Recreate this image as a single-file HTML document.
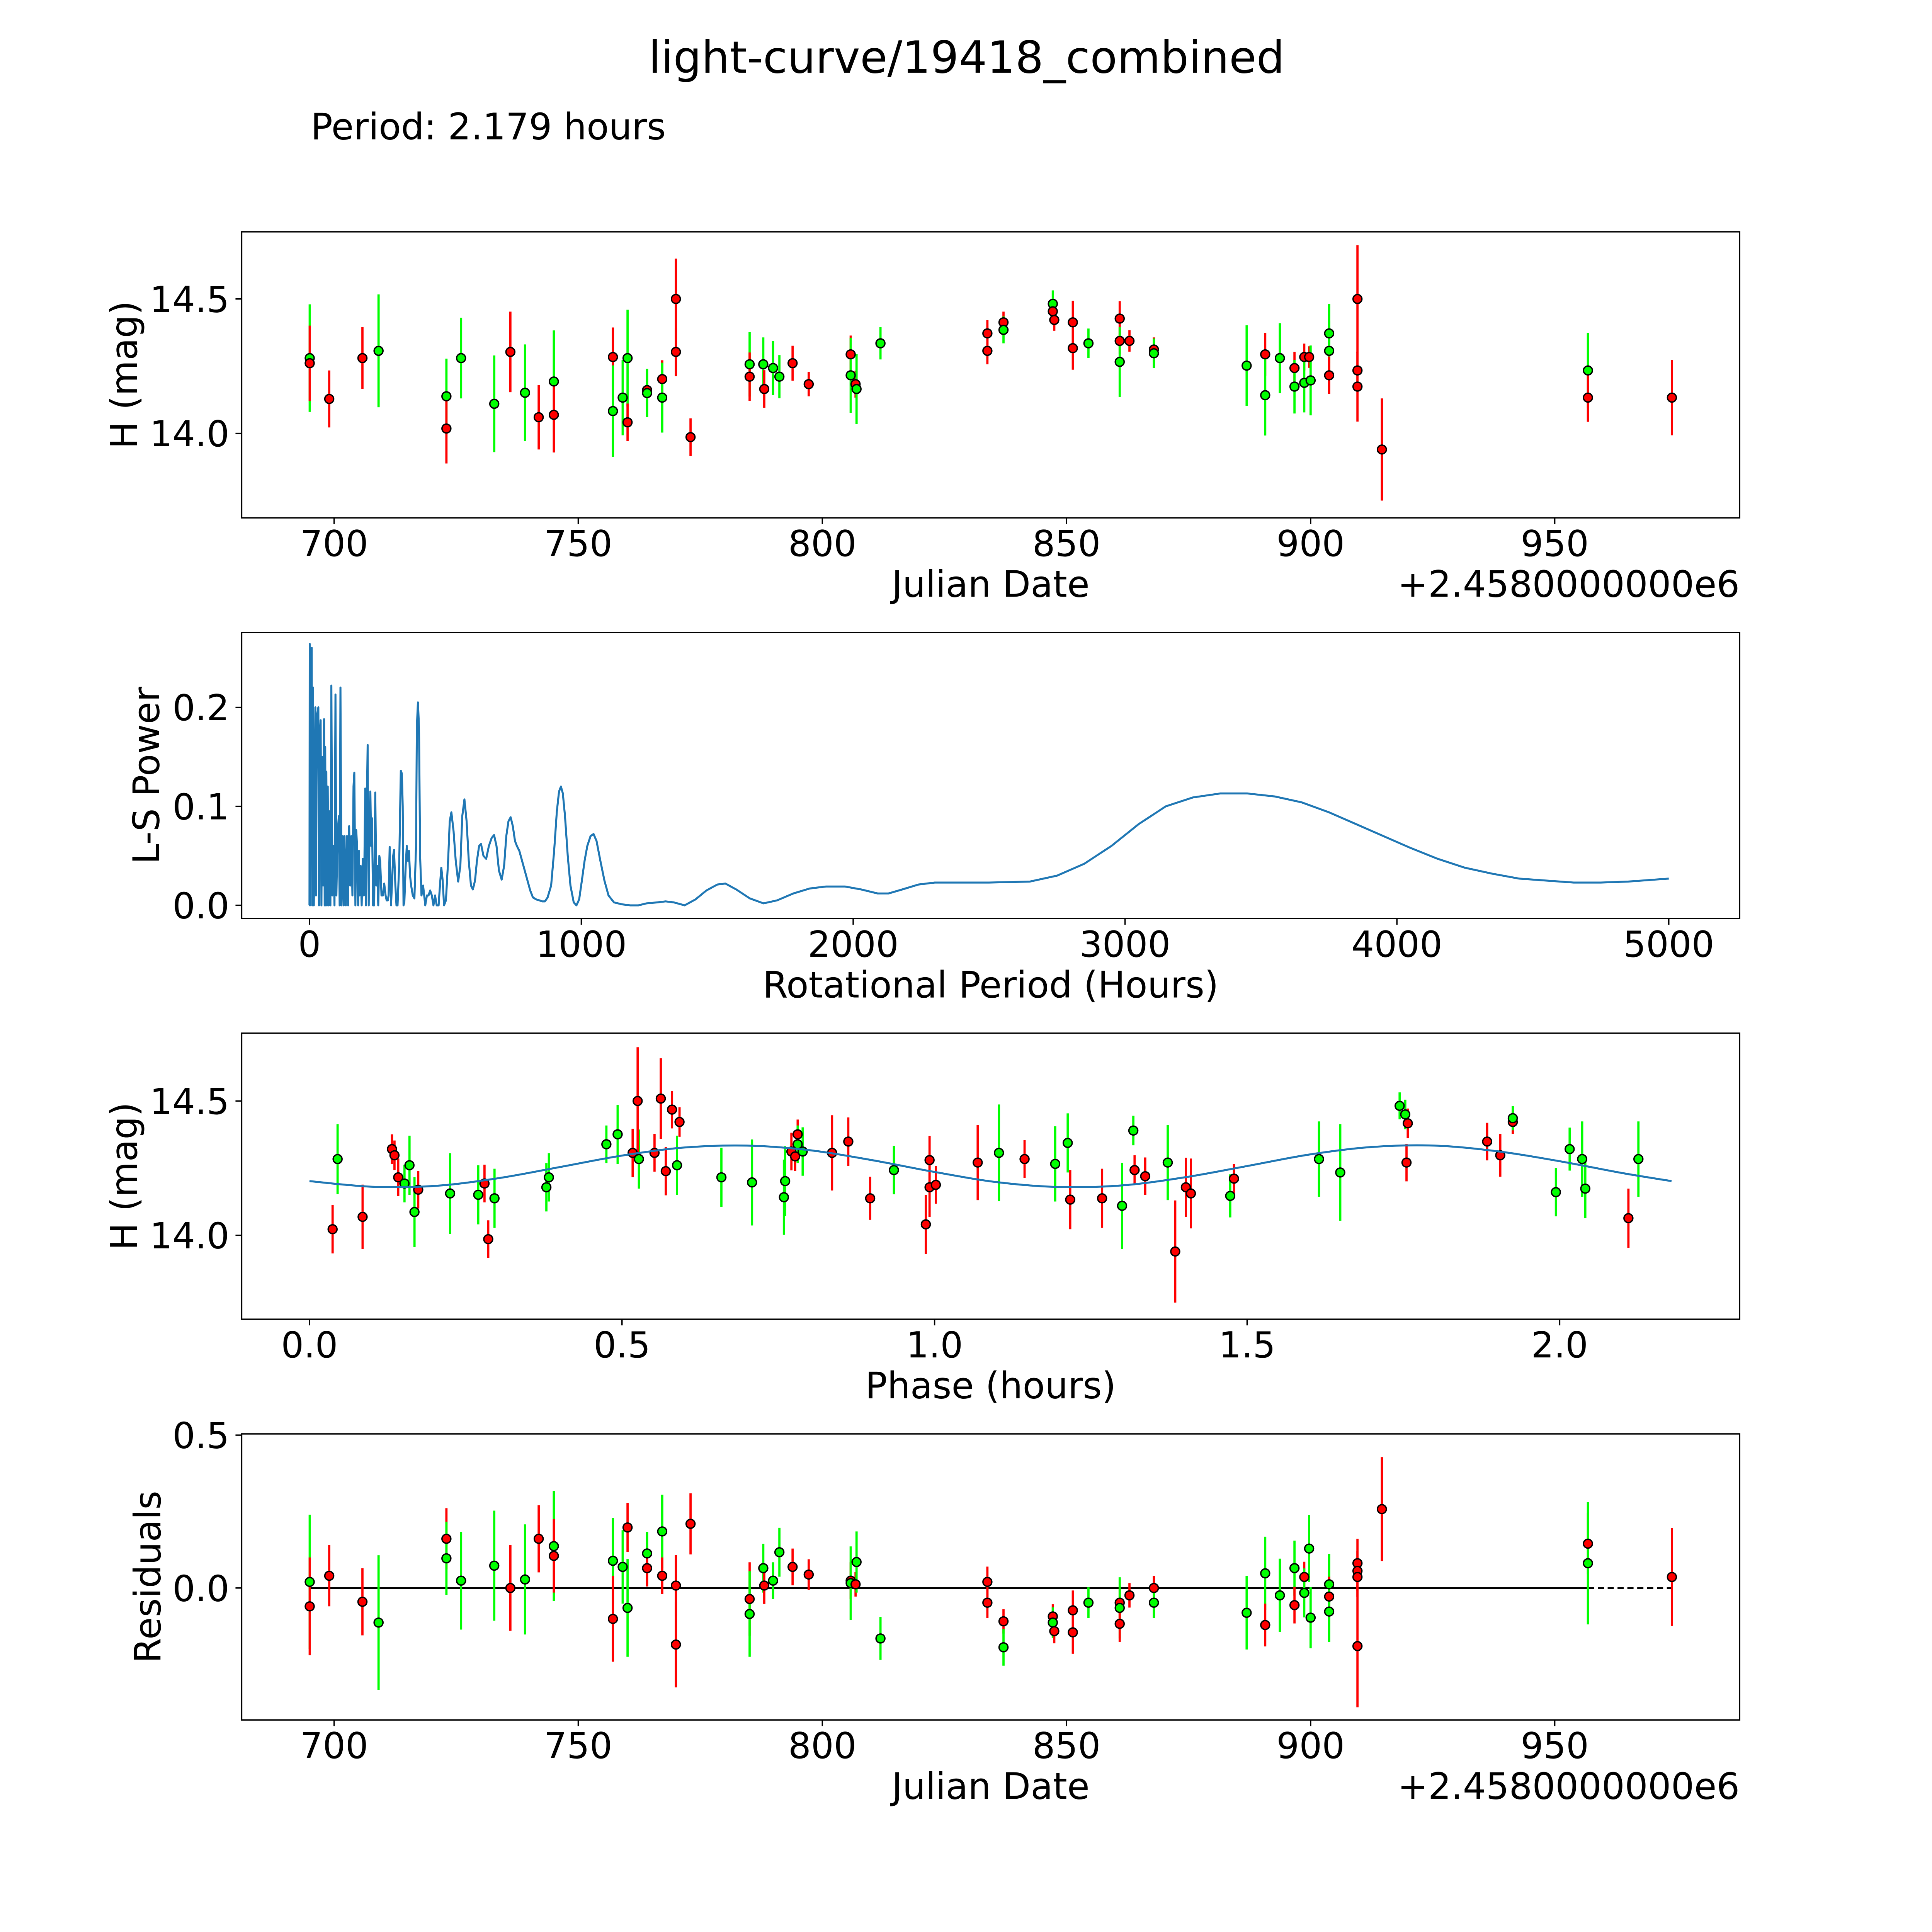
<!DOCTYPE html>
<html><head><meta charset="utf-8">
<style>
html,body{margin:0;padding:0;background:#fff;overflow:hidden;width:100vw;height:100vh;}
svg{display:block;position:fixed;left:0;top:0;width:100vw;height:100vh;}
text{font-family:"DejaVu Sans","Liberation Sans",sans-serif;fill:#000;}
</style></head>
<body>
<svg id="fig" xmlns="http://www.w3.org/2000/svg" viewBox="0 0 1567 1567" preserveAspectRatio="none">
<rect x="0" y="0" width="1567" height="1567" fill="#fff"/>
<text x="784" y="59" font-size="36" text-anchor="middle">light-curve/19418_combined</text>
<text x="252" y="113" font-size="29.5">Period: 2.179 hours</text>
</svg>
<script>
// ---------- Data: panel 1 (light curve) ----------
const lcJD  = [695,695,699,705.8,709.1,723,723,726,732.8,736.1,739.1,741.9,745,745,757.1,757.1,759.1,760.1,760.1,764.1,764.1,767.2,767.2,770,770,773,785.1,785.1,787.9,788.1,789.9,791.2,793.9,797.2,805.8,805.8,806.8,807,811.9,833.8,833.8,837.1,837.1,847.2,847.2,847.5,851.3,851.3,854.5,860.9,860.9,860.9,862.9,867.9,867.9,886.9,890.7,890.7,893.7,896.7,896.7,898.7,898.7,899.7,900,903.8,903.8,903.8,909.6,909.6,909.6,914.6,956.8,956.8,974];
const lcMag = [14.280,14.261,14.128,14.280,14.307,14.138,14.018,14.280,14.110,14.303,14.151,14.060,14.193,14.069,14.284,14.083,14.133,14.280,14.041,14.161,14.150,14.202,14.133,14.5,14.303,13.986,14.257,14.211,14.257,14.165,14.243,14.211,14.261,14.183,14.294,14.216,14.183,14.165,14.335,14.372,14.307,14.413,14.385,14.482,14.454,14.422,14.413,14.317,14.335,14.427,14.344,14.266,14.344,14.312,14.298,14.252,14.294,14.142,14.280,14.243,14.174,14.284,14.188,14.284,14.197,14.372,14.307,14.216,14.5,14.234,14.174,13.940,14.234,14.133,14.133];
const lcErr = [0.20,0.14,0.106,0.115,0.21,0.14,0.13,0.15,0.18,0.15,0.18,0.12,0.19,0.14,0.11,0.17,0.14,0.18,0.07,0.06,0.09,0.07,0.13,0.15,0.09,0.07,0.12,0.09,0.10,0.07,0.10,0.08,0.065,0.045,0.07,0.14,0.05,0.13,0.06,0.05,0.05,0.04,0.05,0.05,0.04,0.04,0.08,0.08,0.055,0.065,0.05,0.13,0.04,0.045,0.055,0.15,0.08,0.15,0.13,0.06,0.10,0.05,0.11,0.04,0.13,0.11,0.11,0.07,0.20,0.07,0.13,0.19,0.14,0.09,0.14];
const lcBand= "grrrggrggrgrgrrgggrrgrgrrrgrgrggrrrgrggrrrggrrrrgrrgrrggrggrgrgrgggrrrrrgrr";

// ---------- Data: panel 2 (periodogram) ----------
const lsPeriod = [0,1,2,5,8.4,10,13.4,16,21.8,24,27,32.7,35,38,41.1,44,47,50,53.7,56,57.9,60,62.1,64.5,67.2,70,74.7,77,80.6,84,88,92,95.7,99,103,108,111,114,118,122,126,129,134,138,142,146,150,154,158,162,165,169,172,175,179,182,184,188,192,196,200,202,205,208,211,214,218,221,224,227,230,234,238,242,246,249,253,257,260,265,270,275,280,284,288,291,295,300,305,308,311,316,320,324,330,336,340,343,346,349,354,358,362,366,370,374,380,386,392,395,399,403,407,412,418,422,426,432,438,444,450,456,462,468,475,480,485,490,495,502,510,516,522,530,538,547,555,562,570,578,586,594,601,609,616,624,631,640,650,660,670,679,688,697,707,716,724,732,740,748,756,763,772,782,792,802,812,822,834,846,856,866,876,889,900,910,918,925,932,940,950,960,972,982,992,1002,1012,1022,1034,1045,1056,1070,1085,1100,1120,1150,1180,1210,1240,1280,1310,1340,1380,1420,1460,1500,1530,1570,1620,1670,1720,1780,1840,1900,1970,2030,2090,2130,2180,2240,2300,2400,2500,2650,2750,2850,2950,3050,3150,3250,3350,3450,3550,3650,3750,3850,3950,4050,4150,4250,4350,4450,4550,4650,4750,4850,4950,5000];
const lsPower  = [0,0.264,0,0.25,0.26,0,0.22,0,0.2,0.01,0.19,0.2,0,0.17,0.187,0,0.15,0.02,0.188,0,0.16,0,0.135,0,0.12,0,0.095,0,0.222,0.01,0.06,0,0.213,0.01,0.07,0.09,0,0.22,0,0.07,0,0.07,0,0.07,0,0.08,0.02,0.07,0.01,0.12,0.134,0,0.076,0.06,0,0.055,0.01,0.04,0,0.047,0.01,0.04,0.118,0,0.1,0.162,0,0.09,0.115,0.06,0.088,0,0,0.114,0.02,0.04,0,0.05,0.045,0.01,0.01,0.022,0.01,0.005,0.005,0.01,0.059,0,0.03,0.05,0.056,0.02,0,0,0.04,0.136,0.133,0.1,0,0.003,0.04,0.06,0.045,0.055,0.03,0.02,0.01,0.007,0.06,0.18,0.205,0.18,0.05,0.01,0.02,0.01,0,0.01,0.01,0.015,0.01,0,0.01,0,0,0.02,0.038,0.025,0,0.005,0.045,0.085,0.094,0.075,0.045,0.024,0.04,0.09,0.107,0.085,0.045,0.02,0.016,0.025,0.045,0.06,0.062,0.05,0.047,0.06,0.068,0.071,0.06,0.035,0.026,0.04,0.07,0.085,0.089,0.08,0.065,0.06,0.055,0.045,0.035,0.025,0.015,0.008,0.006,0.005,0.004,0.004,0.008,0.02,0.055,0.095,0.115,0.12,0.113,0.09,0.05,0.02,0.003,0,0.006,0.025,0.045,0.06,0.07,0.072,0.065,0.045,0.025,0.01,0.003,0.001,0,0,0.002,0.003,0.004,0.003,0,0.006,0.015,0.021,0.022,0.016,0.007,0.002,0.005,0.012,0.017,0.019,0.019,0.016,0.012,0.012,0.016,0.021,0.023,0.023,0.023,0.024,0.03,0.042,0.06,0.082,0.1,0.109,0.113,0.113,0.11,0.104,0.094,0.082,0.07,0.058,0.047,0.038,0.032,0.027,0.025,0.023,0.023,0.024,0.026,0.027];

// ---------- Data: panel 3 (phased) ----------
const phPhase = [0.037,0.045,0.085,0.132,0.136,0.142,0.152,0.160,0.168,0.174,0.225,0.270,0.280,0.286,0.296,0.379,0.383,0.475,0.493,0.517,0.527,0.525,0.552,0.562,0.570,0.580,0.588,0.592,0.659,0.708,0.759,0.761,0.771,0.777,0.781,0.781,0.789,0.836,0.862,0.897,0.935,0.986,0.992,0.992,1.002,1.069,1.103,1.144,1.193,1.213,1.217,1.268,1.300,1.318,1.320,1.337,1.373,1.385,1.402,1.410,1.473,1.479,1.615,1.649,1.744,1.753,1.757,1.755,1.884,1.905,1.925,1.925,1.994,2.016,2.036,2.041,2.110,2.126];
const phMag   = [14.023,14.284,14.069,14.321,14.298,14.216,14.193,14.261,14.087,14.170,14.156,14.151,14.193,13.986,14.138,14.179,14.216,14.339,14.376,14.307,14.284,14.5,14.307,14.509,14.239,14.468,14.261,14.422,14.216,14.197,14.142,14.202,14.312,14.294,14.376,14.339,14.312,14.307,14.349,14.138,14.243,14.041,14.179,14.280,14.188,14.271,14.307,14.284,14.266,14.344,14.133,14.138,14.110,14.390,14.243,14.220,14.271,13.940,14.179,14.156,14.147,14.211,14.284,14.234,14.482,14.450,14.417,14.271,14.349,14.298,14.422,14.436,14.161,14.321,14.284,14.174,14.064,14.284];
const phErr   = [0.09,0.13,0.12,0.055,0.055,0.07,0.07,0.11,0.13,0.07,0.15,0.11,0.07,0.07,0.11,0.09,0.09,0.07,0.11,0.09,0.11,0.2,0.07,0.15,0.09,0.07,0.11,0.055,0.11,0.16,0.14,0.13,0.07,0.055,0.055,0.07,0.09,0.14,0.09,0.08,0.09,0.11,0.11,0.09,0.07,0.14,0.18,0.07,0.14,0.11,0.11,0.11,0.16,0.055,0.055,0.07,0.14,0.19,0.11,0.13,0.08,0.055,0.14,0.18,0.05,0.055,0.055,0.07,0.07,0.08,0.045,0.045,0.09,0.08,0.14,0.11,0.11,0.14];
const phBand  = "rgrrrrgggrggrrgggggrgrrrrrgrggggrrrggrrrgrrrrrgrggrrggrrgrrrgrggggrrrrrgggggrg";
const modelPhase = [0,0.1,0.2,0.3,0.4,0.5,0.6,0.7,0.8,0.9,1.0,1.1,1.2,1.3,1.4,1.5,1.6,1.7,1.8,1.9,2.0,2.1,2.179];
const modelMag   = [14.202,14.181,14.184,14.212,14.254,14.297,14.327,14.334,14.317,14.280,14.236,14.198,14.180,14.186,14.216,14.258,14.301,14.329,14.334,14.313,14.276,14.232,14.202];

// ---------- Data: panel 4 (residuals) ----------
const rsJD  = [695,695,699,705.8,709.1,723,723,726,732.8,736.1,739.1,741.9,745,745,757.1,757.1,759.1,760.1,760.1,764.1,764.1,767.2,767.2,770,770,773,785.1,785.1,787.9,788.1,789.9,791.2,793.9,797.2,805.8,805.8,806.8,807,811.9,833.8,833.8,837.1,837.1,847.2,847.2,847.5,851.3,851.3,854.5,860.9,860.9,860.9,862.9,867.9,867.9,886.9,890.7,890.7,893.7,896.7,896.7,898.7,898.7,899.7,900,903.8,903.8,903.8,909.6,909.6,909.6,909.6,914.6,956.8,956.8,974];
const rsVal = [0.02,-0.06,0.04,-0.045,-0.113,0.161,0.097,0.024,0.073,0,0.028,0.161,0.137,0.105,0.089,-0.101,0.069,0.198,-0.065,0.113,0.065,0.185,0.04,0.008,-0.185,0.21,-0.036,-0.085,0.065,0.008,0.024,0.117,0.069,0.044,0.024,0.016,0.012,0.085,-0.165,0.02,-0.048,-0.109,-0.194,-0.093,-0.113,-0.141,-0.073,-0.145,-0.048,-0.048,-0.065,-0.117,-0.024,0,-0.048,-0.081,0.048,-0.121,-0.024,0.065,-0.056,0.036,-0.016,0.129,-0.097,0.012,-0.028,-0.077,0.081,0.056,0.036,-0.19,0.258,0.145,0.081,0.036];
const rsErr = [0.22,0.16,0.1,0.11,0.22,0.1,0.12,0.16,0.18,0.14,0.18,0.11,0.18,0.12,0.14,0.14,0.12,0.08,0.16,0.07,0.06,0.12,0.06,0.1,0.14,0.1,0.12,0.14,0.08,0.06,0.06,0.08,0.06,0.05,0.06,0.12,0.04,0.1,0.07,0.05,0.05,0.04,0.06,0.04,0.05,0.04,0.065,0.07,0.05,0.05,0.1,0.06,0.04,0.04,0.05,0.12,0.12,0.07,0.12,0.09,0.06,0.05,0.08,0.11,0.1,0.1,0.065,0.1,0.08,0.065,0.065,0.2,0.17,0.1,0.2,0.16];
const rsBand= "grrrgrgggrgrgrgrgrggrgrrrrrggrggrrrgrggrrrgrgrrrgrgrrrgggrggrrggggrgrrrrrrgr";

const jdTicks = [700,750,800,850,900,950];
const magTicks = [14.0,14.5];
const lsXTicks = [0,1000,2000,3000,4000,5000];
const lsYTicks = [0.0,0.1,0.2];
const phXTicks = [0.0,0.5,1.0,1.5,2.0];
const rsYTicks = [0.0,0.5];

// ---------- drawing ----------
const NS = "http://www.w3.org/2000/svg";
const svg = document.getElementById('fig');
function mk(tag, attrs, parent){
  const e = document.createElementNS(NS, tag);
  for (const k in attrs) e.setAttribute(k, attrs[k]);
  (parent||svg).appendChild(e);
  return e;
}
const L = 196, R = 1411;
const COL = {r:'#ff0000', g:'#00ff00'};

function scale(d0,d1,p0,p1){ return v => p0 + (v-d0)/(d1-d0)*(p1-p0); }

function axesFrame(name, top, bot, sx, sy, xt, yt, xfmt, yfmt, xlabel, ylabel, ylabX, offset){
  const g = mk('g', {});
  
  
  xt.forEach(v => {
    const x = sx(v);
    const t = mk('line', {x1:x, x2:x, y1:bot, y2:bot+5, stroke:'#000','stroke-width':1.1}, g);
    
    
    const l = mk('text', {x:x, y:bot+31, 'font-size':29, 'text-anchor':'middle'}, g);
    
    
    l.textContent = xfmt(v);
  });
  yt.forEach(v => {
    const y = sy(v);
    const t = mk('line', {x1:L-5, x2:L, y1:y, y2:y, stroke:'#000','stroke-width':1.1}, g);
    
    
    const l = mk('text', {x:L-10, y:y+10.5, 'font-size':29, 'text-anchor':'end'}, g);
    
    
    l.textContent = yfmt(v);
  });
  const xl = mk('text', {x:(L+R)/2, y:bot+64, 'font-size':29.5, 'text-anchor':'middle'}, g);
  
  
  xl.textContent = xlabel;
  const yl = mk('text', {x:0, y:0, 'font-size':29.5, 'text-anchor':'middle', transform:`translate(${ylabX},${(top+bot)/2}) rotate(-90)`}, g);
  
  
  yl.textContent = ylabel;
  if (offset){
    const o = mk('text', {x:R, y:bot+64, 'font-size':29.5, 'text-anchor':'end'}, g);
    
    
    o.textContent = '+2.4580000000e6';
  }
  return g;
}
function border(top, bot){
  const b = mk('rect', {x:L, y:top, width:R-L, height:bot-top, fill:'none', stroke:'#000', 'stroke-width':1.1});
  
  
}
function errScatter(xs, ys, es, band, sx, sy, name){
  const g = mk('g', {});
  
  
  for (let i=0;i<xs.length;i++){
    const c = COL[band[i]] || COL.r;
    const x = sx(xs[i]);
    const e = mk('line', {x1:x, x2:x, y1:sy(ys[i]-es[i]), y2:sy(ys[i]+es[i]), stroke:c, 'stroke-width':1.8}, g);
    
    
  }
  for (let i=0;i<xs.length;i++){
    const c = COL[band[i]] || COL.r;
    const p = mk('circle', {cx:sx(xs[i]), cy:sy(ys[i]), r:3.6, fill:c, stroke:'#000', 'stroke-width':1.1}, g);
    
    
  }
}
const f1 = v => v.toFixed(1);
const fi = v => String(v);

// Panel 1
{
  const top=188, bot=420;
  const sx = scale(700, 950, 271, 1261);
  const sy = scale(14.0, 14.5, 351.5, 242.5);
  axesFrame('light-curve-axes', top, bot, sx, sy, jdTicks, magTicks, fi, f1, 'Julian Date', 'H (mag)', 111, true);
  errScatter(lcJD, lcMag, lcErr, lcBand, sx, sy, 'light-curve-points');
  border(top, bot);
}
// Panel 2
{
  const top=513, bot=745;
  const sx = scale(0, 1000, 251, 471.5);
  const sy = scale(0, 0.1, 734.3, 654);
  axesFrame('periodogram-axes', top, bot, sx, sy, lsXTicks, lsYTicks, fi, f1, 'Rotational Period (Hours)', 'L-S Power', 129, false);
  let d = '';
  for (let i=0;i<lsPeriod.length;i++) d += (i?'L':'M') + sx(lsPeriod[i]).toFixed(2) + ' ' + sy(lsPower[i]).toFixed(2);
  const p = mk('path', {d:d, fill:'none', stroke:'#1f77b4', 'stroke-width':1.6, 'stroke-linejoin':'round'});
  
  
  border(top, bot);
}
// Panel 3
{
  const top=838, bot=1070;
  const sx = scale(0, 2.0, 251, 1265);
  const sy = scale(14.0, 14.5, 1002, 893);
  axesFrame('phased-axes', top, bot, sx, sy, phXTicks, magTicks, f1, f1, 'Phase (hours)', 'H (mag)', 111, false);
  errScatter(phPhase, phMag, phErr, phBand, sx, sy, 'phased-points');
  const P = modelPhase.map((v,i)=>[sx(v), sy(modelMag[i])]);
  let d = `M${P[0][0]} ${P[0][1]}`;
  for (let i=0;i<P.length-1;i++){
    const p0=P[Math.max(0,i-1)], p1=P[i], p2=P[i+1], p3=P[Math.min(P.length-1,i+2)];
    const c1=[p1[0]+(p2[0]-p0[0])/6, p1[1]+(p2[1]-p0[1])/6];
    const c2=[p2[0]-(p3[0]-p1[0])/6, p2[1]-(p3[1]-p1[1])/6];
    d += ` C${c1[0]} ${c1[1]} ${c2[0]} ${c2[1]} ${p2[0]} ${p2[1]}`;
  }
  const m = mk('path', {d:d, fill:'none', stroke:'#1f77b4', 'stroke-width':1.6});
  
  
  border(top, bot);
}
// Panel 4
{
  const top=1163, bot=1395;
  const sx = scale(700, 950, 271, 1261);
  const sy = scale(0, 0.5, 1288, 1164);
  axesFrame('residuals-axes', top, bot, sx, sy, jdTicks, rsYTicks, fi, f1, 'Julian Date', 'Residuals', 130, true);
  const z1 = mk('line', {x1:sx(695), x2:sx(956.8), y1:sy(0), y2:sy(0), stroke:'#000', 'stroke-width':1.6});
  
  
  const z2 = mk('line', {x1:sx(956.8), x2:sx(974), y1:sy(0), y2:sy(0), stroke:'#000', 'stroke-width':1.4, 'stroke-dasharray':'5,3'});
  
  
  errScatter(rsJD, rsVal, rsErr, rsBand, sx, sy, 'residual-points');
  border(top, bot);
}
</script>
</body></html>
